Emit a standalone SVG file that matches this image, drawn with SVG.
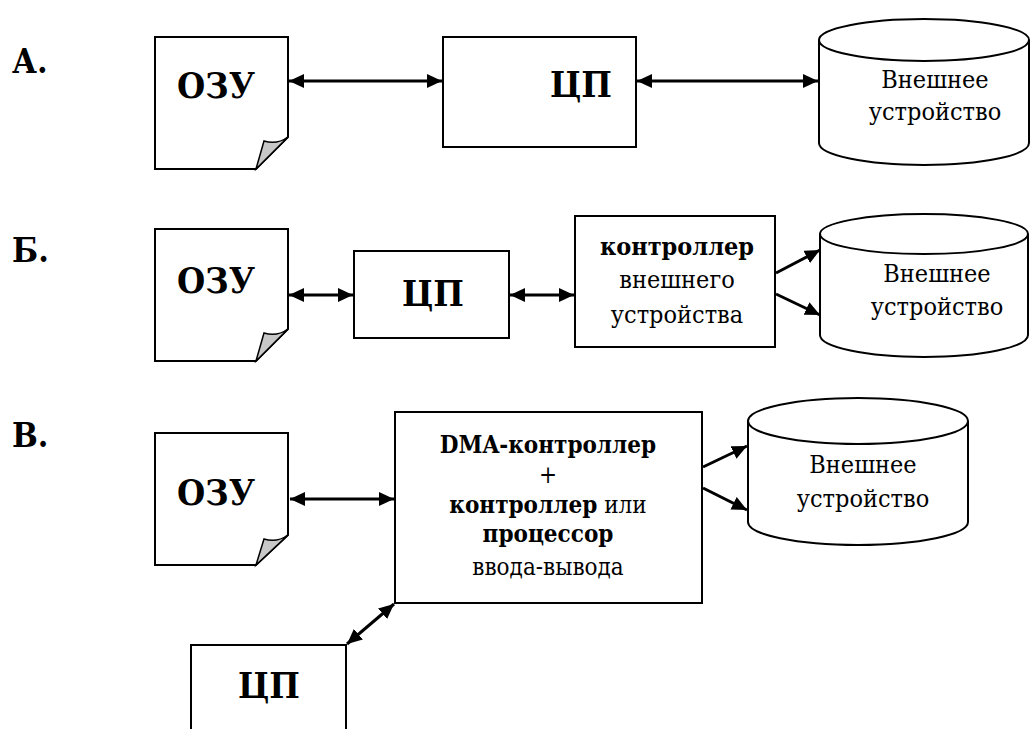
<svg xmlns="http://www.w3.org/2000/svg" width="1035" height="729" viewBox="0 0 1035 729">
<style>
.shape{fill:#fff;stroke:#000;stroke-width:2}
.curl{fill:#c8c8c8;stroke:#000;stroke-width:1.5}
.conn{stroke:#000;stroke-width:3;fill:none}
text{font-family:"DejaVu Serif","Liberation Serif",serif;font-stretch:condensed;fill:#000}
.lbl{font-size:34px;font-weight:bold}
.big{font-size:36px;font-weight:bold;text-anchor:middle}
.t{font-size:25px;text-anchor:middle}
.tb{font-size:25px;text-anchor:middle;font-weight:bold}
.td{font-size:24px;text-anchor:middle}
</style>
<defs>
<marker id="ah" markerUnits="userSpaceOnUse" markerWidth="16" markerHeight="14" refX="15" refY="7" orient="auto-start-reverse">
<path d="M0,0 L15,7 L0,14 Z" fill="#000"/>
</marker>
</defs>

<g id="labels">
<text class="lbl" x="12" y="73">А.</text>
<text class="lbl" x="12" y="262">Б.</text>
<text class="lbl" x="12" y="447">В.</text>
</g>

<!-- Row A -->
<g id="ozu-a">
<path class="shape" d="M155,37 H288 V137 L256,169 H155 Z"/>
<path class="curl" d="M256,169 L264,141 Q277,145 288,137 Z"/>
<text class="big" x="216" y="98">ОЗУ</text>
</g>
<g id="cpu-a">
<rect class="shape" x="443" y="37" width="193" height="110"/>
<text class="big" x="581" y="97">ЦП</text>
</g>
<g id="ext-a">
<path class="shape" d="M819,40 V143 A105,22 0 0 0 1029,143 V40"/>
<ellipse class="shape" cx="924" cy="40" rx="105" ry="21"/>
<text class="t" x="935" y="88">Внешнее</text>
<text class="t" x="935" y="120">устройство</text>
</g>

<!-- Row B -->
<g id="ozu-b">
<path class="shape" d="M155,229 H288 V329 L256,361 H155 Z"/>
<path class="curl" d="M256,361 L264,333 Q277,337 288,329 Z"/>
<text class="big" x="216" y="293">ОЗУ</text>
</g>
<g id="cpu-b">
<rect class="shape" x="354" y="251" width="155" height="87"/>
<text class="big" x="433" y="306">ЦП</text>
</g>
<g id="ctrl-b">
<rect class="shape" x="575" y="216" width="200" height="131"/>
<text class="tb" x="677" y="255">контроллер</text>
<text class="t" x="677" y="288">внешнего</text>
<text class="t" x="677" y="323">устройства</text>
</g>
<g id="ext-b">
<path class="shape" d="M820,234 V335 A104,22 0 0 0 1028,335 V234"/>
<ellipse class="shape" cx="924" cy="234" rx="104" ry="20"/>
<text class="t" x="937" y="282">Внешнее</text>
<text class="t" x="937" y="315">устройство</text>
</g>

<!-- Row C -->
<g id="ozu-c">
<path class="shape" d="M155,433 H288 V535 L256,565 H155 Z"/>
<path class="curl" d="M256,565 L264,539 Q277,543 288,535 Z"/>
<text class="big" x="216" y="505">ОЗУ</text>
</g>
<g id="dma-c">
<rect class="shape" x="395" y="412" width="307" height="191"/>
<text class="td" x="548" y="453" font-weight="bold">DMA-контроллер</text>
<text class="td" x="548" y="483">+</text>
<text class="td" x="548" y="513"><tspan font-weight="bold">контроллер</tspan> или</text>
<text class="td" x="548" y="542" font-weight="bold">процессор</text>
<text class="td" x="548" y="575">ввода-вывода</text>
</g>
<g id="ext-c">
<path class="shape" d="M748,421 V522 A110,23 0 0 0 968,522 V421"/>
<ellipse class="shape" cx="858" cy="421" rx="110" ry="23"/>
<text class="t" x="863" y="473">Внешнее</text>
<text class="t" x="863" y="507">устройство</text>
</g>
<g id="cpu-c">
<path class="shape" d="M191,730 V645 H346 V730"/>
<text class="big" x="269" y="698">ЦП</text>
</g>

<g id="connectors">
<line class="conn" x1="289" y1="81" x2="442" y2="81" marker-start="url(#ah)" marker-end="url(#ah)"/>
<line class="conn" x1="637" y1="81" x2="818" y2="81" marker-start="url(#ah)" marker-end="url(#ah)"/>
<line class="conn" x1="289" y1="295" x2="353" y2="295" marker-start="url(#ah)" marker-end="url(#ah)"/>
<line class="conn" x1="510" y1="295" x2="574" y2="295" marker-start="url(#ah)" marker-end="url(#ah)"/>
<line class="conn" x1="776" y1="273" x2="820" y2="250" marker-end="url(#ah)"/>
<line class="conn" x1="776" y1="294" x2="820" y2="315" marker-end="url(#ah)"/>
<line class="conn" x1="290" y1="499" x2="394" y2="499" marker-start="url(#ah)" marker-end="url(#ah)"/>
<line class="conn" x1="703" y1="467" x2="747" y2="446" marker-end="url(#ah)"/>
<line class="conn" x1="703" y1="488" x2="747" y2="510" marker-end="url(#ah)"/>
<line class="conn" x1="347" y1="644" x2="394" y2="604" marker-start="url(#ah)" marker-end="url(#ah)"/>
</g>
</svg>
